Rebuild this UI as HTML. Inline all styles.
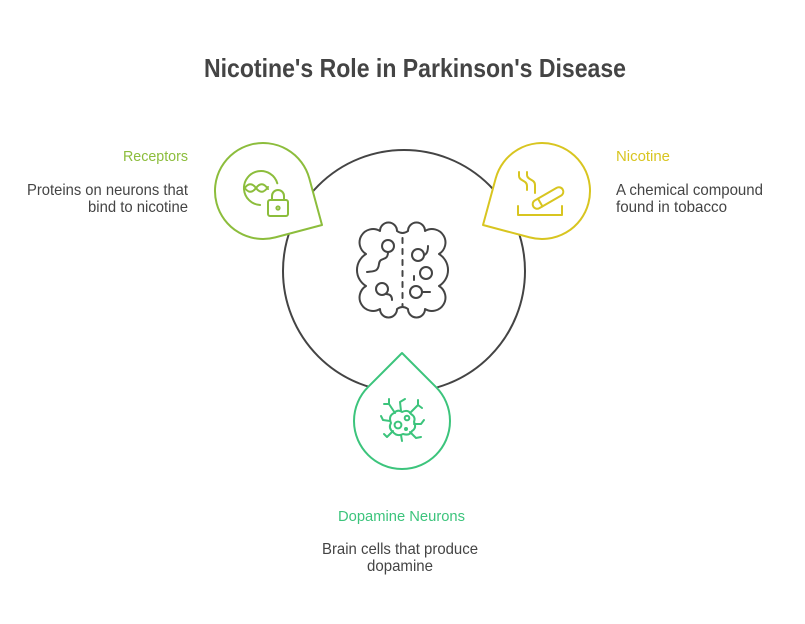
<!DOCTYPE html>
<html>
<head>
<meta charset="utf-8">
<style>
  html,body{margin:0;padding:0;background:#fff;}
  svg{display:block;}
  text{font-family:"Liberation Sans",Arial,sans-serif;}
</style>
</head>
<body>
<svg width="805" height="624" viewBox="0 0 805 624" xmlns="http://www.w3.org/2000/svg">
  <rect width="805" height="624" fill="#fff"/>

  <!-- Title -->
  <text x="204" y="77" font-size="26" font-weight="bold" fill="#444" textLength="422" lengthAdjust="spacingAndGlyphs">Nicotine's Role in Parkinson's Disease</text>

  <!-- Big circle -->
  <circle cx="404" cy="271" r="121" fill="none" stroke="#444" stroke-width="2"/>

  <!-- Brain icon -->
  <g fill="none" stroke="#444" stroke-width="2" stroke-linecap="round" stroke-linejoin="round">
    <path d="M380 231 A8.5 8.5 0 0 1 397 231 Q402.5 235 408 231 A8.5 8.5 0 0 1 425 231 A13 13 0 0 1 439 254 A18.7 18.7 0 0 1 439 286 A13 13 0 0 1 425 309 A8.5 8.5 0 0 1 408 309 Q402.5 305 397 309 A8.5 8.5 0 0 1 380 309 A13 13 0 0 1 366 286 A18.7 18.7 0 0 1 366 254 A13 13 0 0 1 380 231 Z"/>
    <line x1="402.5" y1="238" x2="402.5" y2="306" stroke-dasharray="5 6"/>
    <circle cx="388" cy="246" r="6"/>
    <path d="M388 252 C388 262 380 256 379 264 C378 272 374 271 367 272"/>
    <circle cx="418" cy="255" r="6"/>
    <path d="M424 255 Q428 254 428 246"/>
    <circle cx="426" cy="273" r="6"/>
    <line x1="414" y1="276" x2="414" y2="280"/>
    <circle cx="382" cy="289" r="6"/>
    <path d="M386 294 Q392 294 392 300"/>
    <circle cx="416" cy="292" r="6"/>
    <line x1="422" y1="292" x2="430" y2="292"/>
  </g>

  <!-- Receptors drop -->
  <path d="M322 225 L275.3 237.4 A48 48 0 1 1 309.3 178.4 Z" fill="#fff" stroke="#8CBD3C" stroke-width="2" stroke-linejoin="round"/>
  <g fill="none" stroke="#8CBD3C" stroke-width="2" stroke-linecap="round" stroke-linejoin="round">
    <path d="M277.3 183.3 A17 17 0 1 0 260.1 205"/>
    <path d="M244 189 Q250 180 256 188 T268 187"/>
    <path d="M244 187 Q250 196 256 188 T268 189"/>
    <path d="M272 200 V196 A6 6 0 0 1 284 196 V200"/>
    <rect x="268" y="200" width="20" height="16" rx="2"/>
    <circle cx="278" cy="208" r="1.6"/>
  </g>

  <!-- Nicotine drop -->
  <path d="M483 225 L529.7 237.4 A48 48 0 1 0 495.7 178.4 Z" fill="#fff" stroke="#D8C520" stroke-width="2" stroke-linejoin="round"/>
  <g fill="none" stroke="#D8C520" stroke-width="2" stroke-linecap="round" stroke-linejoin="round">
    <path d="M519 172 V176 C519 181 527 180 527 186 V190"/>
    <path d="M527 172 V175 C527 180 535 179 535 185 V193"/>
    <g transform="translate(548 198) rotate(-30)">
      <rect x="-17" y="-4.5" width="34" height="9" rx="4.5"/>
      <line x1="-9" y1="-4.5" x2="-9" y2="4.5"/>
    </g>
    <path d="M518 206 V215 H562 V206"/>
  </g>

  <!-- Dopamine drop -->
  <path d="M402 353 L436 387.1 A48 48 0 1 1 368 387.1 Z" fill="#fff" stroke="#3CC47C" stroke-width="2" stroke-linejoin="round"/>
  <g fill="none" stroke="#3CC47C" stroke-width="2" stroke-linecap="round" stroke-linejoin="round">
    <path d="M394 413 Q398 409 402 412 Q408 409 411 414 Q416 417 414 422 Q417 428 412 431 Q410 436 403 434 Q397 437 393 432 Q388 428 391 423 Q388 416 394 413 Z"/>
    <circle cx="398" cy="425" r="3.4"/>
    <circle cx="407" cy="418" r="2.3"/>
    <circle cx="406" cy="429" r="1"/>
    <path d="M395 413 L389 404 M389 404 L384 404 M389 404 L389 399"/>
    <path d="M401 411 L400 402 M400 402 L405 399"/>
    <path d="M410 413 L418 405 M418 405 L422 408 M418 405 L418 400"/>
    <path d="M390 421 L383 420 M383 420 L381 416"/>
    <path d="M414 424 L421 424 M421 424 L424 420"/>
    <path d="M393 431 L387 437 M387 437 L384 434"/>
    <path d="M401 435 L402 441"/>
    <path d="M410 432 L416 438 M416 438 L421 437"/>
  </g>

  <!-- Receptors text -->
  <text x="188" y="161" font-size="15" fill="#8CBD3C" text-anchor="end" textLength="65" lengthAdjust="spacingAndGlyphs">Receptors</text>
  <text x="27" y="195" font-size="16" fill="#444" textLength="161" lengthAdjust="spacingAndGlyphs">Proteins on neurons that</text>
  <text x="88" y="212" font-size="16" fill="#444" textLength="100" lengthAdjust="spacingAndGlyphs">bind to nicotine</text>

  <!-- Nicotine text -->
  <text x="616" y="161" font-size="15" fill="#D8C520" textLength="54" lengthAdjust="spacingAndGlyphs">Nicotine</text>
  <text x="616" y="195" font-size="16" fill="#444" textLength="147" lengthAdjust="spacingAndGlyphs">A chemical compound</text>
  <text x="616" y="212" font-size="16" fill="#444" textLength="111" lengthAdjust="spacingAndGlyphs">found in tobacco</text>

  <!-- Dopamine text -->
  <text x="338" y="521" font-size="15" fill="#3CC47C" textLength="127" lengthAdjust="spacingAndGlyphs">Dopamine Neurons</text>
  <text x="322" y="554" font-size="16" fill="#444" textLength="156" lengthAdjust="spacingAndGlyphs">Brain cells that produce</text>
  <text x="367" y="571" font-size="16" fill="#444" textLength="66" lengthAdjust="spacingAndGlyphs">dopamine</text>
</svg>
</body>
</html>
